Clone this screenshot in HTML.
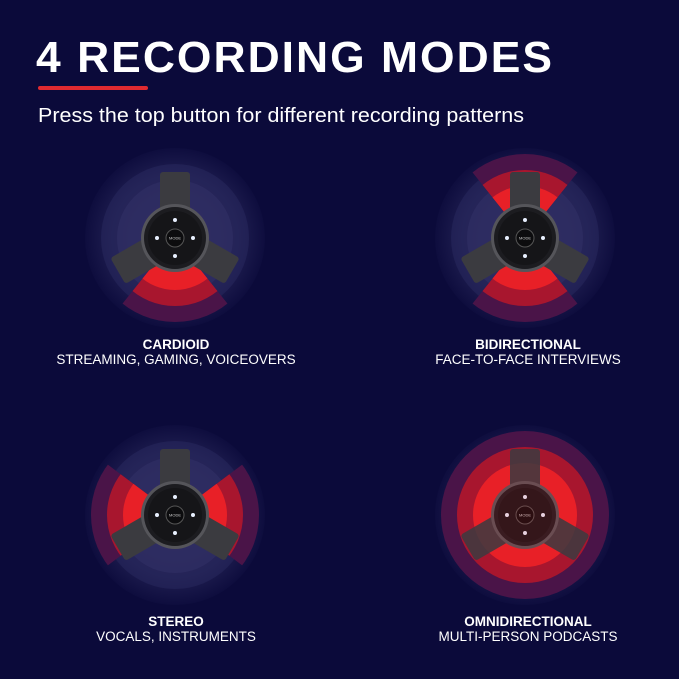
<!DOCTYPE html>
<html><head><style>
body{margin:0;background:#0b0a3a;}
svg{display:block}
</style></head><body>
<svg width="679" height="679" viewBox="0 0 679 679" xmlns="http://www.w3.org/2000/svg">
<defs>
<radialGradient id="halo" cx="50%" cy="50%" r="50%">
<stop offset="0" stop-color="#2e2d5e"/><stop offset="0.7" stop-color="#1f1e50"/><stop offset="1" stop-color="#0e0d3e"/>
</radialGradient>
<clipPath id="down"><polygon points="0,0 -80,100 80,100"/></clipPath>
<clipPath id="updown"><polygon points="0,0 -80,100 80,100"/><polygon points="0,0 -80,-100 80,-100"/></clipPath>
<clipPath id="lr"><polygon points="0,0 -100,-75 -100,75"/><polygon points="0,0 100,-75 100,75"/></clipPath>
<g id="halos">
<circle r="90" fill="url(#halo)"/>
<circle r="74" fill="#2a2960" opacity="0.5"/>
<circle r="58" fill="#333268" opacity="0.5"/>
</g>
<g id="red">
<circle r="84" fill="#4a1448"/>
<circle r="68" fill="#a8162e"/>
<circle r="52" fill="#e82027"/>
</g>
<g id="mic">
<g fill="#3b3b40">
<rect x="-15" y="-66" width="30" height="60" rx="3"/>
<rect x="-15" y="-66" width="30" height="60" rx="3" transform="rotate(120)"/>
<rect x="-15" y="-66" width="30" height="60" rx="3" transform="rotate(240)"/>
</g>
<circle r="34" fill="#55555a"/>
<circle r="31" fill="#1c1c20"/>
<circle r="27" fill="#151518"/>
<circle r="9" fill="#0c0c0e" stroke="#555" stroke-width="1"/>
<text x="0" y="1.5" font-size="4" fill="#ccc" text-anchor="middle" font-family="Liberation Sans">MODE</text>
<g fill="#e8f0ff"><circle cx="0" cy="-18" r="2"/><circle cx="0" cy="18" r="2"/><circle cx="-18" cy="0" r="2"/><circle cx="18" cy="0" r="2"/></g>
</g>
</defs>
<rect width="679" height="679" fill="#0b0a3a"/>
<text x="36" y="72" font-family="Liberation Sans" font-weight="bold" font-size="44" letter-spacing="2" textLength="518" lengthAdjust="spacingAndGlyphs" fill="#fff">4 RECORDING MODES</text>
<rect x="38" y="86" width="110" height="4" rx="2" fill="#e02a30"/>
<text x="38" y="122" font-family="Liberation Sans" font-size="20" textLength="486" lengthAdjust="spacingAndGlyphs" fill="#fff">Press the top button for different recording patterns</text>

<g transform="translate(175,238)"><use href="#halos"/><g clip-path="url(#down)"><use href="#red"/></g><use href="#mic"/></g>
<g transform="translate(525,238)"><use href="#halos"/><g clip-path="url(#updown)"><use href="#red"/></g><use href="#mic"/></g>
<g transform="translate(175,515)"><use href="#halos"/><g clip-path="url(#lr)"><use href="#red"/></g><use href="#mic"/></g>
<g transform="translate(525,515)"><use href="#halos"/><use href="#red"/><use href="#mic" opacity="0.85"/></g>

<g font-family="Liberation Sans" fill="#fff" text-anchor="middle" font-size="13.5">
<text x="176" y="349" font-weight="bold">CARDIOID</text>
<text x="176" y="364">STREAMING, GAMING, VOICEOVERS</text>
<text x="528" y="349" font-weight="bold">BIDIRECTIONAL</text>
<text x="528" y="364">FACE-TO-FACE INTERVIEWS</text>
<text x="176" y="626" font-weight="bold">STEREO</text>
<text x="176" y="641">VOCALS, INSTRUMENTS</text>
<text x="528" y="626" font-weight="bold">OMNIDIRECTIONAL</text>
<text x="528" y="641">MULTI-PERSON PODCASTS</text>
</g>
</svg>
</body></html>
